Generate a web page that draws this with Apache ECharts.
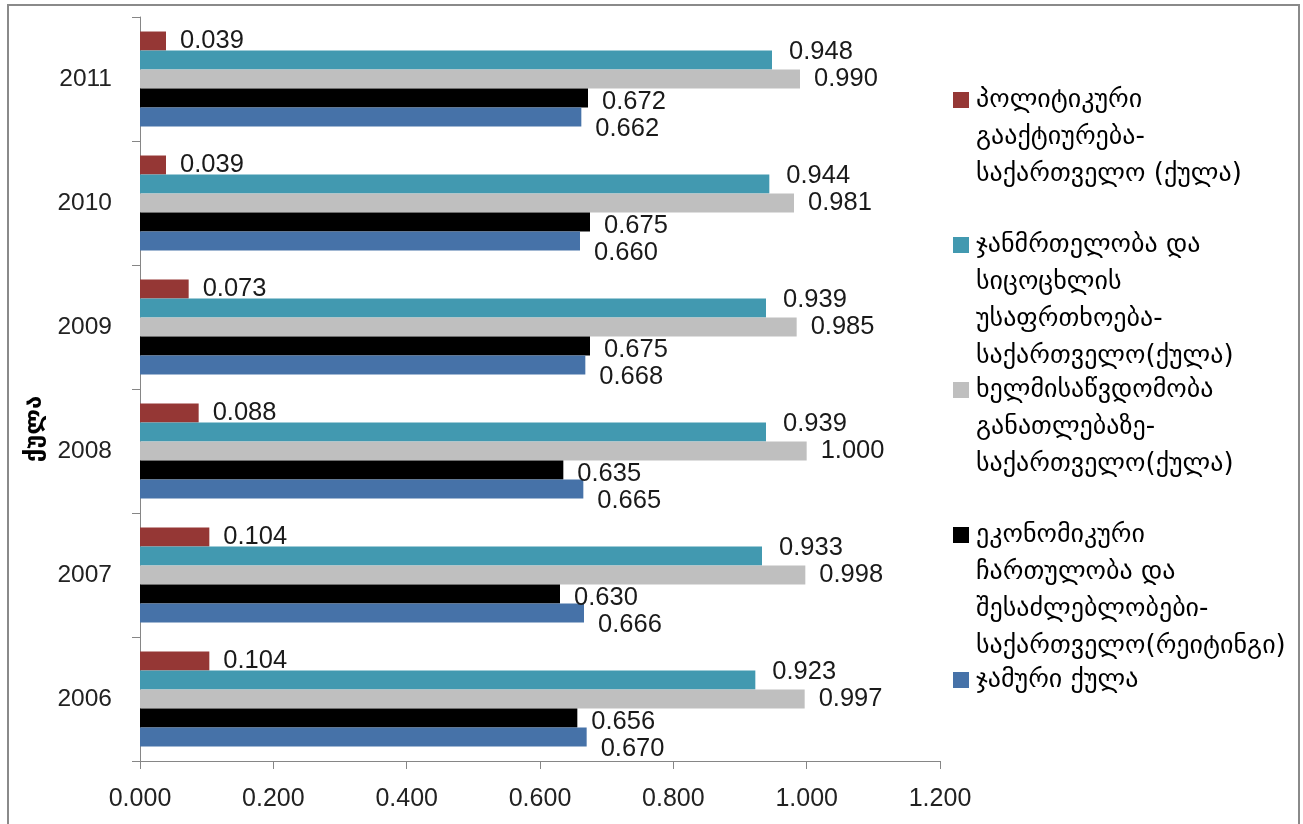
<!DOCTYPE html>
<html><head><meta charset="utf-8">
<script src="https://cdn.jsdelivr.net/npm/echarts@6/dist/echarts.min.js"></script>
<style>
html,body{margin:0;padding:0;background:#fff;overflow:hidden;}
#c{position:absolute;left:0;top:0;width:1303px;height:824px;}
#frame{position:absolute;left:7px;top:4px;width:1289px;height:840px;border:2px solid #8a8a8a;border-bottom:none;pointer-events:none;}
</style>
</head><body><div id="c"></div><div id="frame"></div>
<script>
// ---- data ----
const years = ['2006', '2007', '2008', '2009', '2010', '2011'];
const political = [0.104, 0.104, 0.088, 0.073, 0.039, 0.039];
const health = [0.923, 0.933, 0.939, 0.939, 0.944, 0.948];
const education = [0.997, 0.998, 1.000, 0.985, 0.981, 0.990];
const economic = [0.656, 0.630, 0.635, 0.675, 0.675, 0.672];
const total = [0.670, 0.666, 0.665, 0.668, 0.660, 0.662];
const xTicks = [0, 0.2, 0.4, 0.6, 0.8, 1.0, 1.2];
const axisName = 'ქულა';
const seriesNames = [
  'პოლიტიკური გააქტიურება-საქართველო (ქულა)',
  'ჯანმრთელობა და სიცოცხლის უსაფრთხოება-საქართველო(ქულა)',
  'ხელმისაწვდომობა განათლებაზე-საქართველო(ქულა)',
  'ეკონომიკური ჩართულობა და შესაძლებლობები-საქართველო(რეიტინგი)',
  'ჯამური ქულა'
];
const legendLines = [
  ['პოლიტიკური', 'გააქტიურება-', 'საქართველო (ქულა)'],
  ['ჯანმრთელობა და', 'სიცოცხლის', 'უსაფრთხოება-', 'საქართველო(ქულა)'],
  ['ხელმისაწვდომობა', 'განათლებაზე-', 'საქართველო(ქულა)'],
  ['ეკონომიკური', 'ჩართულობა და', 'შესაძლებლობები-', 'საქართველო(რეიტინგი)'],
  ['ჯამური ქულა']
];
// ---- styles ----
const colors = ['#953735', '#4299b0', '#bfbfbf', '#000000', '#4672a8'];
const labelOffsets = [[0, 0], [3, -8], [0, 0], [0, 4], [0, 12]];
const values = [political, health, education, economic, total];

const LH = 37;
const FONT = 'Liberation Sans';
const GEO = 'DejaVu Sans';

const rich = { t: { fontFamily: GEO, fontSize: 26, lineHeight: LH, color: '#000' },
               g: { width: 7, lineHeight: LH },
               i: { width: 23, lineHeight: LH } };
colors.forEach((c, k) => { rich['s' + k] = { width: 16, height: 16, backgroundColor: c }; });

const chart = echarts.init(document.getElementById('c'), null, { renderer: 'canvas' });
chart.setOption({
  animation: false,
  backgroundColor: '#ffffff',
  grid: { left: 140, right: 363, top: 17, bottom: 63, containLabel: false },
  xAxis: {
    type: 'value', min: 0, max: 1.2, interval: 0.2,
    axisLine: { show: true, lineStyle: { color: '#868686', width: 1 } },
    axisTick: { show: true, length: 8, lineStyle: { color: '#868686' } },
    splitLine: { show: false },
    axisLabel: { fontFamily: FONT, fontSize: 25, color: '#222', margin: 26,
                 formatter: v => v.toFixed(3) }
  },
  yAxis: {
    type: 'category', data: years,
    name: axisName, nameLocation: 'middle', nameRotate: 90, nameGap: 88,
    nameTextStyle: { fontFamily: GEO, fontSize: 24, fontWeight: 'bold', color: '#000', padding: [0, 80, 0, 0] },
    axisLine: { show: true, lineStyle: { color: '#868686', width: 1 } },
    axisTick: { show: true, length: 8, lineStyle: { color: '#868686' } },
    axisLabel: { fontFamily: FONT, fontSize: 24.5, color: '#222', margin: 28 }
  },
  legend: {
    orient: 'vertical', left: 943, top: 82, itemGap: 8,
    itemWidth: 0, itemHeight: 0, itemStyle: { opacity: 0 },
    data: seriesNames,
    textStyle: { rich: rich },
    formatter: function (name) {
      const k = seriesNames.indexOf(name);
      const lines = legendLines[k].slice();
      const out = lines.map((ln, j) => (j === 0 ? '{s' + k + '|}{g|}' : '{i|}') + '{t|' + ln + '}');
      while (k < seriesNames.length - 1 && out.length < 4) out.push('{i|}{t| }');
      return out.join('\n');
    }
  },
  series: seriesNames.map((name, k) => ({
    name: name, type: 'bar',
    data: values[k],
    barGap: '0%', barCategoryGap: '23.4%',
    itemStyle: { color: colors[k] },
    label: { show: true, position: 'right', distance: 14, offset: labelOffsets[k],
             fontFamily: FONT, fontSize: 25.5, color: '#1a1a1a',
             formatter: p => p.value.toFixed(3) }
  }))
});
</script>
</body></html>
